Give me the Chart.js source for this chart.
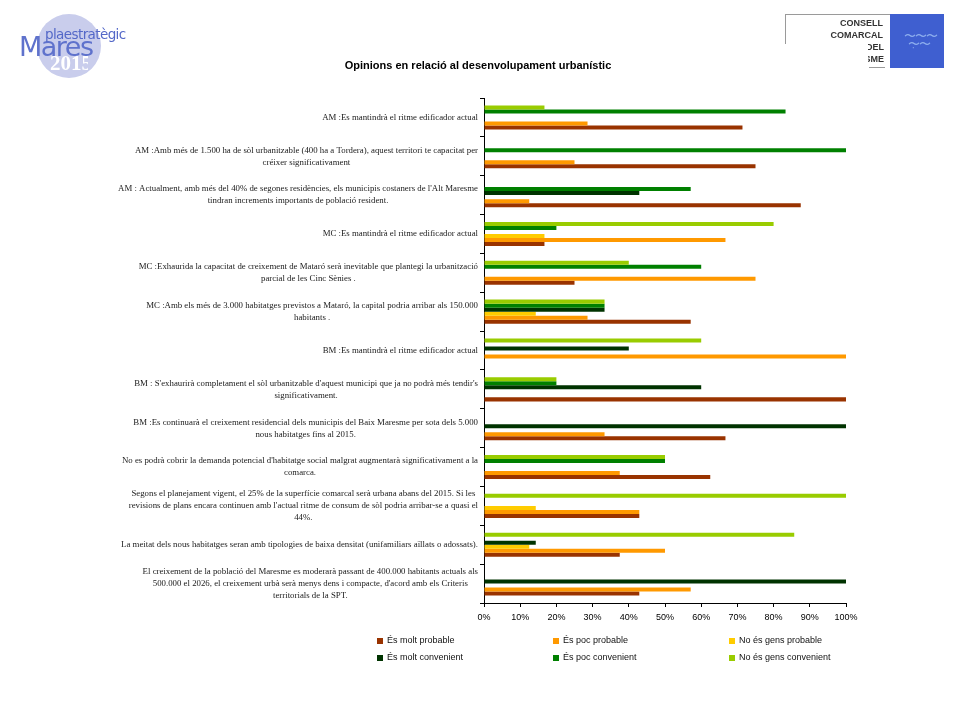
<!DOCTYPE html>
<html>
<head>
<meta charset="utf-8">
<script src="https://cdn.jsdelivr.net/npm/chart.js@4.4.1/dist/chart.umd.min.js"></script>
<style>
  body { margin: 0; background: #fff; }
  #wrap { position: relative; width: 960px; height: 720px; overflow: hidden; }
  #chart { position: absolute; left: 0; top: 0; }
  .title { position: absolute; left: 278px; width: 400px; top: 59px; text-align: center; font: bold 11px "Liberation Sans", Arial, sans-serif; color: #000; }
  .logoL { position: absolute; left: 0; top: 0; width: 200px; height: 90px; }
  .circle { position: absolute; left: 37px; top: 14px; width: 64px; height: 64px; border-radius: 50%; background: #c9cdec; }
  .pla { position: absolute; left: 45px; top: 26px; font: 13.5px "DejaVu Sans", sans-serif; color: #5468c8; letter-spacing: -0.6px; }
  .mares { position: absolute; left: 19px; top: 31px; font: 27px "DejaVu Sans", sans-serif; color: #5f72cc; letter-spacing: -1.5px; }
  .year { position: absolute; left: 50px; top: 51px; font: bold 21px "Liberation Serif", serif; color: #fff; width: 38px; overflow: hidden; white-space: nowrap; }
  .logoR { position: absolute; left: 785px; top: 14px; width: 105px; height: 54px; border-top: 1px solid #9a9a9a; }
  .logoR .edge { position: absolute; left: 0; top: 0; width: 1px; height: 29px; background: #9a9a9a; }
  .logoR .txt { position: absolute; right: 7px; font: bold 9px "Liberation Sans", Arial, sans-serif; color: #333; text-align: right; }
  .clip { position: absolute; left: 83px; width: 16px; overflow: hidden; font: bold 9px "Liberation Sans", Arial, sans-serif; color: #333; }
  .clip span { float: right; white-space: nowrap; }
  .under { position: absolute; left: 84px; top: 52px; width: 16px; height: 1px; background: #9a9a9a; }
  .blue { position: absolute; left: 890px; top: 14px; width: 54px; height: 54px; background: #3f5fd0; }
  .blue span { position: absolute; left: 14px; color: #8fb0ee; font: 12px "DejaVu Sans", sans-serif; letter-spacing: -1px; }
</style>
</head>
<body>
<div id="wrap">
  <canvas id="chart" width="960" height="720"></canvas>
  <div class="title">Opinions en relació al desenvolupament urbanístic</div>
  <div class="logoL">
    <div class="circle"></div>
    <div class="mares">Mares</div>
    <div class="pla">plaestratègic</div>
    <div class="year">2015</div>
  </div>
  <div class="logoR">
    <div class="edge"></div>
    <div class="txt" style="top:3px">CONSELL</div>
    <div class="txt" style="top:15px">COMARCAL</div>
    <div class="clip" style="top:27px"><span>DEL</span></div>
    <div class="clip" style="top:39px"><span>MARESME</span></div>
    <div class="under"></div>
  </div>
  <div class="blue"><span style="top:14px">〜〜〜</span><span style="top:22px;left:18px">〜〜</span><span style="top:30px;left:22px;font-size:8px">·</span></div>
</div>
<script>
// category labels (already split into lines as in the original)
const categories = [
  ["AM :Es mantindrà el ritme edificador actual"],
  ["AM :Amb més de 1.500 ha de sòl urbanitzable (400 ha a Tordera), aquest territori te capacitat per", "créixer significativament"],
  ["AM : Actualment, amb més del 40% de segones residències, els municipis costaners de l'Alt Maresme", "tindran increments importants de població resident."],
  ["MC :Es mantindrà el ritme edificador actual"],
  ["MC :Exhaurida la capacitat de creixement de Mataró serà inevitable que plantegi la urbanització", "parcial de les Cinc Sènies ."],
  ["MC :Amb els més de 3.000 habitatges previstos a Mataró, la capital podria arribar als 150.000", "habitants ."],
  ["BM :Es mantindrà el ritme edificador actual"],
  ["BM : S'exhaurirà completament el sòl urbanitzable d'aquest municipi que ja no podrà més tendir's", "significativament."],
  ["BM :Es continuarà el creixement residencial dels municipis del Baix Maresme per sota dels 5.000", "nous habitatges fins al 2015."],
  ["No es podrà cobrir la demanda potencial d'habitatge social malgrat augmentarà significativament a la", "comarca."],
  ["Segons el planejament vigent, el 25% de la superfície comarcal serà urbana abans del 2015. Si les", "revisions de plans encara continuen amb l'actual ritme de consum de sòl podria arribar-se a quasi el", "44%."],
  ["La meitat dels nous habitatges seran amb tipologies de baixa densitat (unifamiliars aïllats o adossats)."],
  ["El creixement de la població del Maresme es moderarà passant de 400.000 habitants actuals als", "500.000 el 2026, el creixement urbà serà menys dens i compacte, d'acord amb els Criteris", "territorials de la SPT."]
];

// percentages per category
const moltProbable   = [71.4, 75, 87.5, 16.7, 25, 57.1, 0, 100, 66.7, 62.5, 42.9, 37.5, 42.9];
const pocProbable    = [28.6, 25, 12.5, 66.7, 75, 28.6, 100, 0, 33.3, 37.5, 42.9, 50, 57.1];
const gensProbable   = [0, 0, 0, 16.7, 0, 14.3, 0, 0, 0, 0, 14.3, 12.5, 0];
const moltConvenient = [0, 0, 42.9, 0, 0, 33.3, 40, 60, 100, 0, 0, 14.3, 100];
const pocConvenient  = [83.3, 100, 57.1, 20, 60, 33.3, 0, 20, 0, 50, 0, 0, 0];
const gensConvenient = [16.7, 0, 0, 80, 40, 33.3, 60, 20, 0, 50, 100, 85.7, 0];

const xTicks = [0, 10, 20, 30, 40, 50, 60, 70, 80, 90, 100];

// datasets listed top-to-bottom inside each group
const datasets = [
  { label: 'No és gens convenient', data: gensConvenient, backgroundColor: '#99cc00' },
  { label: 'És poc convenient', data: pocConvenient, backgroundColor: '#008000' },
  { label: 'És molt convenient', data: moltConvenient, backgroundColor: '#003300' },
  { label: 'No és gens probable', data: gensProbable, backgroundColor: '#ffcc00' },
  { label: 'És poc probable', data: pocProbable, backgroundColor: '#ff9900' },
  { label: 'És molt probable', data: moltProbable, backgroundColor: '#993300' },
];
const legendOrder = [5, 4, 3, 2, 1, 0];

// multi-line category labels: block right aligned to the axis, lines centred
const yLabels = {
  id: 'yLabels',
  afterDraw(chart) {
    const ctx = chart.ctx;
    const y = chart.scales.y;
    ctx.save();
    ctx.font = '8.8px "Liberation Serif", serif';
    ctx.fillStyle = '#1a1a1a';
    ctx.textAlign = 'center';
    ctx.textBaseline = 'middle';
    const right = y.right - 6;
    categories.forEach((lines, i) => {
      const cy = y.getPixelForTick(i);
      const w = Math.max(...lines.map(l => ctx.measureText(l).width));
      const cx = right - w / 2;
      lines.forEach((l, k) => {
        ctx.fillText(l, cx, cy + (k - (lines.length - 1) / 2) * 12);
      });
    });
    ctx.restore();
  }
};

// legend in a 3 x 2 grid below the axis
const gridLegend = {
  id: 'gridLegend',
  afterDraw(chart) {
    const ctx = chart.ctx;
    const cols = [377, 553, 729];
    const rows = [641, 658];
    ctx.save();
    ctx.font = '9px "Liberation Sans", Arial, sans-serif';
    ctx.textBaseline = 'middle';
    ctx.textAlign = 'left';
    legendOrder.forEach((di, n) => {
      const ds = chart.data.datasets[di];
      const x = cols[n % 3], yy = rows[Math.floor(n / 3)];
      ctx.fillStyle = ds.backgroundColor;
      ctx.fillRect(x, yy - 3, 6, 6);
      ctx.fillStyle = '#111';
      ctx.fillText(ds.label, x + 10, yy);
    });
    ctx.restore();
  }
};

new Chart(document.getElementById('chart'), {
  type: 'bar',
  data: {
    labels: categories.map(c => c.join(' ')),
    datasets: datasets.map(d => Object.assign({ categoryPercentage: 0.62, barPercentage: 1.0, borderWidth: 0 }, d))
  },
  options: {
    indexAxis: 'y',
    responsive: false,
    animation: false,
    layout: { padding: { left: 0, right: 114, top: 98, bottom: 0 } },
    plugins: {
      legend: { display: false },
      tooltip: { enabled: false },
      title: { display: false }
    },
    scales: {
      x: {
        min: 0,
        max: 100,
        afterBuildTicks: s => { s.ticks = xTicks.map(v => ({ value: v })); },
        afterFit: s => { s.height = 117; },
        grid: { drawOnChartArea: false, drawTicks: true, tickLength: 4, color: '#000' },
        border: { color: '#000', width: 1 },
        ticks: {
          padding: 5,
          color: '#000',
          font: { family: '"Liberation Sans", Arial, sans-serif', size: 9 },
          callback: v => v + '%',
          maxRotation: 0
        }
      },
      y: {
        afterFit: s => { s.width = 484; },
        grid: { drawOnChartArea: false, drawTicks: true, tickLength: 4, color: '#000', offset: true },
        border: { color: '#000', width: 1 },
        ticks: { display: false }
      }
    }
  },
  plugins: [yLabels, gridLegend]
});
</script>
</body>
</html>
